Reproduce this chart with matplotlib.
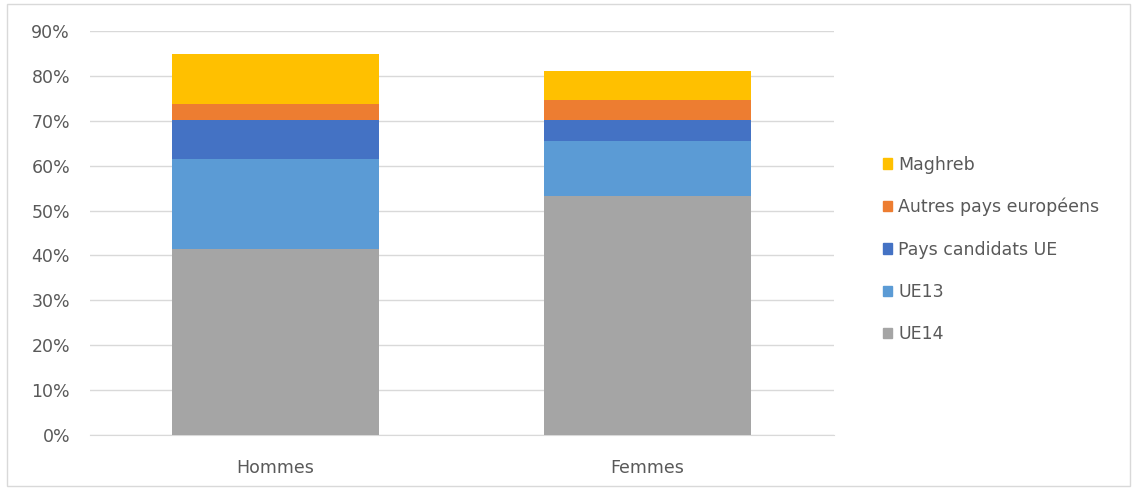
import matplotlib.pyplot as plt
from matplotlib.patches import Patch, Rectangle
from matplotlib.ticker import PercentFormatter
import numpy as np

plt.rcParams['font.family'] = ['DejaVu Sans']

# Données (parts en %)
categories = ["Hommes", "Femmes"]
series = ["UE14", "UE13", "Pays candidats UE", "Autres pays européens", "Maghreb"]
ue14 = [41.4, 53.3]
ue13 = [20.0, 12.2]
candidats = [8.8, 4.7]
autres_europe = [3.5, 4.4]
maghreb = [11.1, 6.5]
colors = ["#A5A5A5", "#5B9BD5", "#4472C4", "#ED7D31", "#FFC000"]

values = [ue14, ue13, candidats, autres_europe, maghreb]

fig = plt.figure(figsize=(11.35, 4.88), dpi=100)
ax = fig.add_axes([0.0789, 0.1086, 0.6555, 0.828])

x = np.arange(len(categories))
bottom = np.zeros(len(categories))
for vals, col, name in zip(values, colors, series):
    ax.bar(x, vals, 0.557, bottom=bottom, color=col, label=name, zorder=3)
    bottom += np.array(vals)

ax.set_xlim(-0.5, 1.5)
ax.set_ylim(0, 90)
ax.set_yticks(np.arange(0, 91, 10))
ax.yaxis.set_major_formatter(PercentFormatter(decimals=0))
ax.set_xticks(x)
ax.set_xticklabels(categories)
ax.grid(axis='y', color='#D9D9D9', linewidth=1, zorder=0)
for s in ax.spines.values():
    s.set_visible(False)
ax.spines['bottom'].set_visible(True)
ax.spines['bottom'].set_color('#D9D9D9')
ax.tick_params(length=0, colors='#595959', labelsize=12.5)
ax.tick_params(axis='y', pad=14)
ax.tick_params(axis='x', pad=17)

# Légende (ordre inversé comme dans Excel)
handles = [Patch(color=c) for c in colors][::-1]
fig.legend(handles, series[::-1], loc='center left', bbox_to_anchor=(0.764, 0.489),
           frameon=False, fontsize=12.5, handlelength=0.55, handleheight=0.55,
           handletextpad=0.35, labelspacing=1.4, labelcolor='#595959')

# Cadre du graphique
fig.patches.append(Rectangle((0.006, 0.004), 0.99, 0.988, transform=fig.transFigure,
                             fill=False, edgecolor='#D9D9D9', linewidth=1))

fig.savefig("out.png", dpi=100)
